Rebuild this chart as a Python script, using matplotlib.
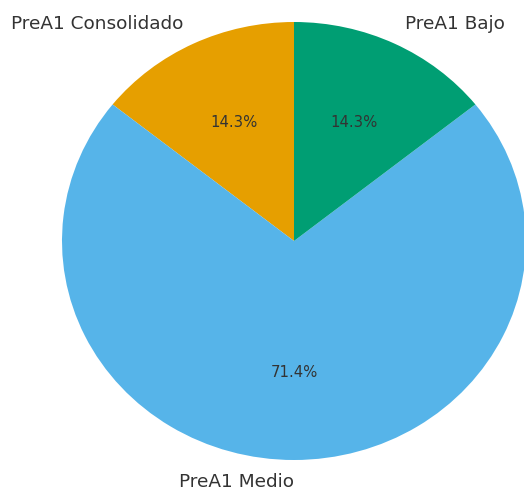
import matplotlib
matplotlib.use('Agg')
import matplotlib.pyplot as plt

labels = ['PreA1 Consolidado', 'PreA1 Medio', 'PreA1 Bajo']
counts = [1, 5, 1]
colors = ['#E69F00', '#56B4E9', '#009E73']

fig = plt.figure(figsize=(5.24, 4.93), dpi=100)
ax = fig.add_axes([62 / 524, 33 / 493, 464 / 524, 438 / 493])
wedges, texts, autotexts = ax.pie(counts, labels=labels, colors=colors, autopct='%1.1f%%',
                                  startangle=90, textprops={'color': '#333333', 'fontsize': 13.3})
for t in autotexts:
    t.set_fontsize(10.7)
# label underneath sits just left of the centre line
texts[1].set_horizontalalignment('right')
ax.set_aspect('auto')
ax.set_xlim(-1, 1)
ax.set_ylim(-1, 1)
fig.savefig('out.png', dpi=100)
